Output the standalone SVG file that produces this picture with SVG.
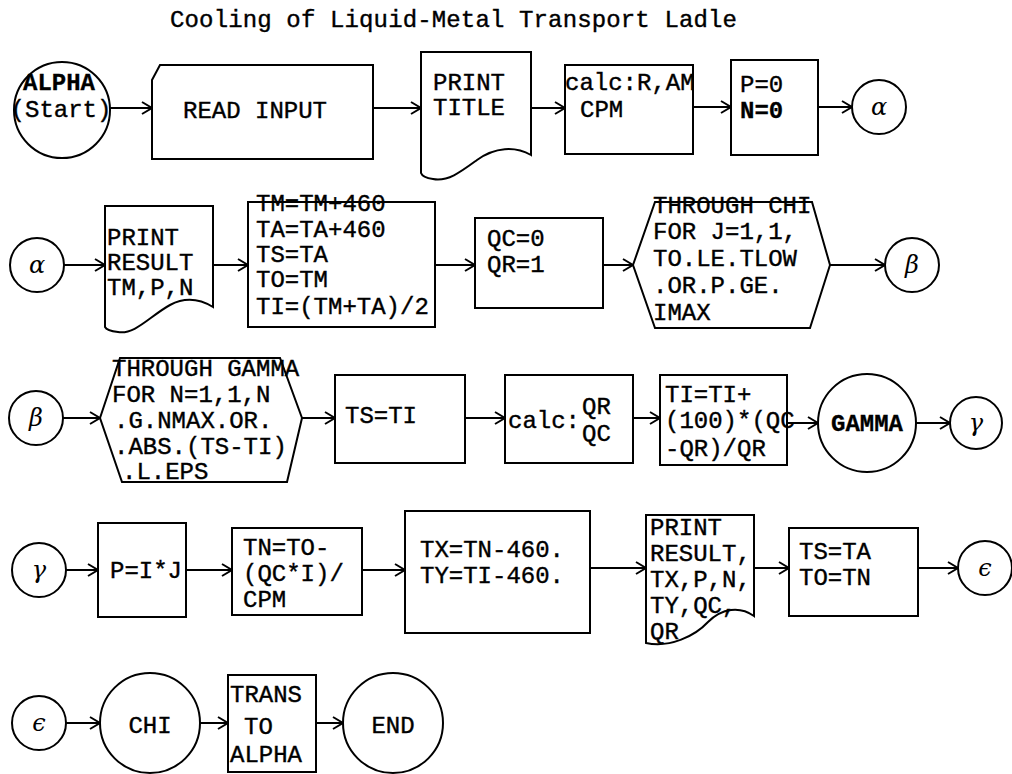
<svg xmlns="http://www.w3.org/2000/svg" width="1012" height="774" viewBox="0 0 1012 774">
<defs>
<marker id="arr" markerUnits="userSpaceOnUse" markerWidth="14" markerHeight="14" refX="12" refY="7" orient="auto">
<path d="M2,1 L12,7 L2,13" fill="none" stroke="#000" stroke-width="2"/>
</marker>
<style>
.s{fill:#fff;stroke:#000;stroke-width:2}
.t{font-family:"Liberation Mono","Courier New",monospace;font-size:24px;fill:#000;stroke:#000;stroke-width:0.4}
.b{font-weight:bold;stroke-width:0.3}
.m{text-anchor:middle}
.g{font-family:"DejaVu Serif","Liberation Serif",serif;font-style:italic;font-size:24px;fill:#000;text-anchor:middle}
.c line{stroke:#000;stroke-width:2;marker-end:url(#arr)}
</style>
</defs>
<rect width="1012" height="774" fill="#fff"/>
<text class="t" x="170" y="27" textLength="567">Cooling of Liquid-Metal Transport Ladle</text>

<g id="connectors" class="c">
<line x1="110" y1="108" x2="152" y2="108"/>
<line x1="373" y1="108" x2="421" y2="108"/>
<line x1="531" y1="108" x2="565" y2="108"/>
<line x1="693" y1="107" x2="731" y2="107"/>
<line x1="818" y1="107" x2="852" y2="107"/>
<line x1="64" y1="265" x2="105" y2="265"/>
<line x1="213" y1="265" x2="248" y2="265"/>
<line x1="435" y1="265" x2="475" y2="265"/>
<line x1="603" y1="265" x2="633" y2="265"/>
<line x1="830" y1="265" x2="885" y2="265"/>
<line x1="63" y1="418" x2="100" y2="418"/>
<line x1="302" y1="418" x2="335" y2="418"/>
<line x1="465" y1="418" x2="505" y2="418"/>
<line x1="633" y1="418" x2="660" y2="418"/>
<line x1="787" y1="423" x2="818" y2="423"/>
<line x1="916" y1="423" x2="950" y2="423"/>
<line x1="66" y1="570" x2="98" y2="570"/>
<line x1="186" y1="570" x2="232" y2="570"/>
<line x1="362" y1="570" x2="405" y2="570"/>
<line x1="590" y1="568" x2="646" y2="568"/>
<line x1="754" y1="568" x2="789" y2="568"/>
<line x1="918" y1="568" x2="958" y2="568"/>
<line x1="66" y1="723" x2="100" y2="723"/>
<line x1="200" y1="723" x2="228" y2="723"/>
<line x1="316" y1="723" x2="343" y2="723"/>
</g>

<g id="alpha_start"><circle class="s" cx="62" cy="110" r="48"/>
<text class="t b m" x="59" y="90">ALPHA</text><text class="t m" x="61" y="117">(Start)</text></g>
<g id="read_input"><polygon class="s" points="152,80 160,65 373,65 373,159 152,159"/>
<text class="t" x="183" y="118">READ INPUT</text></g>
<g id="print_title"><path class="s" d="M421,52 H531 V155 C515,146 495,147 477,160 C462,171 448,182 433,179 C426,178 422,176 421,173 Z"/>
<text class="t" x="433" y="90">PRINT</text><text class="t" x="433" y="115">TITLE</text></g>
<g id="calc_r"><rect class="s" x="565" y="65" width="128" height="89"/>
<text class="t" x="565" y="90">calc:R,AM</text><text class="t" x="580" y="117">CPM</text></g>
<g id="init_pn"><rect class="s" x="731" y="60" width="87" height="95"/>
<text class="t" x="740" y="92">P=0</text><text class="t b" x="740" y="118">N=0</text></g>
<g id="alpha1"><circle class="s" cx="879" cy="107" r="27"/><text class="g" x="879" y="115">α</text></g>

<g id="alpha2"><circle class="s" cx="37" cy="265" r="27"/><text class="g" x="37" y="273">α</text></g>
<g id="print_result1"><path class="s" d="M105,206 H213 V307 C200,299 185,297 170,305 C150,316 135,335 118,332 C110,331 106,329 105,327 Z"/>
<text class="t" x="107" y="245">PRINT</text><text class="t" x="107" y="270">RESULT</text><text class="t" x="107" y="295">TM,P,N</text></g>
<g id="convert"><rect class="s" x="248" y="202" width="187" height="125"/>
<text class="t" x="256" y="211">TM=TM+460</text><text class="t" x="256" y="237">TA=TA+460</text><text class="t" x="256" y="262">TS=TA</text><text class="t" x="256" y="287">TO=TM</text><text class="t" x="256" y="314">TI=(TM+TA)/2</text></g>
<g id="init_q"><rect class="s" x="475" y="218" width="128" height="90"/>
<text class="t" x="487" y="246">QC=0</text><text class="t" x="487" y="272">QR=1</text></g>
<g id="through_chi"><polygon class="s" points="633,265 655,202 812,202 830,265 810,328 655,328"/>
<text class="t" x="653" y="213">THROUGH CHI</text><text class="t" x="653" y="239">FOR J=1,1,</text><text class="t" x="653" y="266">TO.LE.TLOW</text><text class="t" x="653" y="293">.OR.P.GE.</text><text class="t" x="653" y="320">IMAX</text></g>
<g id="beta1"><circle class="s" cx="912" cy="265" r="27"/><text class="g" x="912" y="273">β</text></g>

<g id="beta2"><circle class="s" cx="36" cy="418" r="27"/><text class="g" x="36" y="426">β</text></g>
<g id="through_gamma"><polygon class="s" points="100,418 120,358 280,358 302,418 287,482 122,482"/>
<text class="t" x="112" y="376">THROUGH GAMMA</text><text class="t" x="112" y="402">FOR N=1,1,N</text><text class="t" x="114" y="428">.G.NMAX.OR.</text><text class="t" x="114" y="454">.ABS.(TS-TI)</text><text class="t" x="122" y="479">.L.EPS</text></g>
<g id="ts_ti"><rect class="s" x="335" y="375" width="130" height="88"/>
<text class="t" x="345" y="423">TS=TI</text></g>
<g id="calc_q"><rect class="s" x="505" y="375" width="128" height="88"/>
<text class="t" x="508" y="428">calc:</text><text class="t" x="582" y="414">QR</text><text class="t" x="582" y="441">QC</text></g>
<g id="ti_update"><rect class="s" x="660" y="375" width="127" height="90"/>
<text class="t" x="665" y="402">TI=TI+</text><text class="t" x="665" y="428">(100)*(QC</text><text class="t" x="665" y="456">-QR)/QR</text></g>
<g id="gamma_end"><circle class="s" cx="867" cy="423" r="49"/><text class="t b m" x="867" y="431">GAMMA</text></g>
<g id="gamma1"><circle class="s" cx="976" cy="423" r="26"/><text class="g" x="976" y="431">γ</text></g>

<g id="gamma2"><circle class="s" cx="39" cy="570" r="27"/><text class="g" x="39" y="578">γ</text></g>
<g id="p_calc"><rect class="s" x="98" y="523" width="88" height="94"/>
<text class="t" x="110" y="578">P=I*J</text></g>
<g id="tn_calc"><rect class="s" x="232" y="528" width="130" height="87"/>
<text class="t" x="243" y="555">TN=TO-</text><text class="t" x="243" y="581">(QC*I)/</text><text class="t" x="243" y="607">CPM</text></g>
<g id="tx_ty"><rect class="s" x="405" y="511" width="185" height="122"/>
<text class="t" x="420" y="557">TX=TN-460.</text><text class="t" x="420" y="583">TY=TI-460.</text></g>
<g id="print_result2"><path class="s" d="M646,515 H754 V616 C740,606 722,608 708,622 C695,636 670,648 646,643 Z"/>
<text class="t" x="650" y="535">PRINT</text><text class="t" x="650" y="561">RESULT,</text><text class="t" x="650" y="587">TX,P,N,</text><text class="t" x="650" y="613">TY,QC,</text><text class="t" x="650" y="639">QR</text></g>
<g id="ts_to"><rect class="s" x="789" y="528" width="129" height="88"/>
<text class="t" x="799" y="559">TS=TA</text><text class="t" x="799" y="585">TO=TN</text></g>
<g id="eps1"><circle class="s" cx="985" cy="568" r="27"/><text class="g" x="985" y="576">ϵ</text></g>

<g id="eps2"><circle class="s" cx="39" cy="723" r="27"/><text class="g" x="39" y="731">ϵ</text></g>
<g id="chi"><circle class="s" cx="150" cy="723" r="50"/><text class="t m" x="150" y="733">CHI</text></g>
<g id="trans"><rect class="s" x="228" y="675" width="88" height="97"/>
<text class="t" x="230" y="702">TRANS</text><text class="t" x="244" y="734">TO</text><text class="t" x="230" y="762">ALPHA</text></g>
<g id="end"><circle class="s" cx="393" cy="723" r="50"/><text class="t m" x="393" y="733">END</text></g>
</svg>
